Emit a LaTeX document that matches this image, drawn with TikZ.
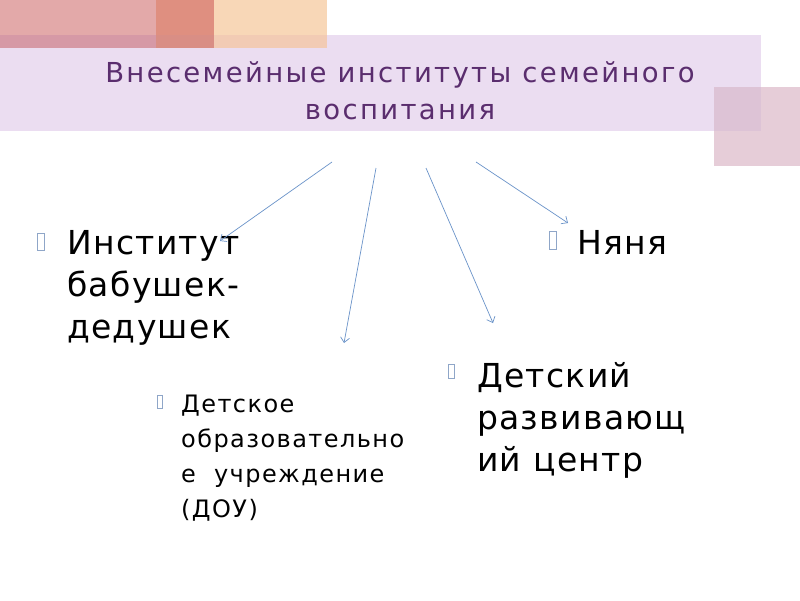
\documentclass[tikz,border=0pt]{standalone}
\usepackage{fontspec}
\setmainfont{DejaVu Sans}
\newfontfamily\bodyfont[LetterSpace=4]{DejaVu Sans}
\newfontfamily\smallfont[LetterSpace=6]{DejaVu Sans}
\newfontfamily\titlefont[LetterSpace=8.5]{DejaVu Sans}
\usetikzlibrary{arrows.meta}
\definecolor{bandc}{HTML}{EBDDF1}
\definecolor{pinkc}{HTML}{E3A9A9}
\definecolor{pinkov}{HTML}{D699A6}
\definecolor{darkc}{HTML}{DF8F80}
\definecolor{darkov}{HTML}{D98E85}
\definecolor{peachc}{HTML}{F8D7B7}
\definecolor{peachov}{HTML}{F2CBB4}
\definecolor{sqc}{HTML}{E6CDD8}
\definecolor{sqov}{HTML}{DDC3D6}
\definecolor{titlec}{HTML}{5A2D6E}
\definecolor{arrowc}{HTML}{6A93C9}
\definecolor{bulletc}{HTML}{8FA6C8}
\tikzset{
  arr/.style={draw=arrowc, line width=0.7pt, -{Straight Barb[length=5pt,width=9pt]}},
  bigtext/.style={anchor=north west, inner sep=0pt, align=left, font=\bodyfont\fontsize{33}{42}\selectfont},
  smalltext/.style={anchor=north west, inner sep=0pt, align=left, font=\smallfont\fontsize{24}{35}\selectfont},
  bulletbox/.style={draw=bulletc, line width=0.8pt}
}
\begin{document}
\begin{tikzpicture}[x=1pt,y=-1pt]
\useasboundingbox (0,0) rectangle (800,600);
\fill[white] (0,0) rectangle (800,600);
% band and decorative blocks
\fill[bandc] (0,35) rectangle (761,131);
\fill[pinkc] (0,0) rectangle (156,35);
\fill[pinkov] (0,35) rectangle (156,48);
\fill[darkc] (156,0) rectangle (214,35);
\fill[darkov] (156,35) rectangle (214,48);
\fill[peachc] (214,0) rectangle (327,35);
\fill[peachov] (214,35) rectangle (327,48);
\fill[sqov] (714,87) rectangle (761,131);
\fill[sqc] (761,87) rectangle (800,166);
\fill[sqc] (714,131) rectangle (761,166);
% title
\node[anchor=center, align=center, text=titlec, font=\titlefont\fontsize{27.5}{37}\selectfont] (title) at (400,91) {Внесемейные институты семейного\\воспитания};
% texts
\node[bigtext] (inst) at (67,230) {Институт\\бабушек-\\дедушек};
\node[bigtext] (nyan) at (577,230) {Няня};
\node[smalltext] (dou) at (181,395) {Детское\\образовательно\\е\ \ учреждение\\(ДОУ)};
\node[bigtext] (drc) at (477,362) {Детский\\развивающ\\ий центр};
% bullets
\draw[bulletbox] (37,233) rectangle (44,250) coordinate (b1);
\draw[bulletbox] (549,231) rectangle (556,249) coordinate (b2);
\draw[bulletbox] (157,395) rectangle (162,408) coordinate (b3);
\draw[bulletbox] (448,364) rectangle (454,378) coordinate (b4);
% arrows
\coordinate (s1) at (332,162); \coordinate (e1) at (220,241);
\coordinate (s2) at (376,168); \coordinate (e2) at (344,343);
\coordinate (s3) at (426,168); \coordinate (e3) at (493,323);
\coordinate (s4) at (476,162); \coordinate (e4) at (568,223);
\draw[arr] (s1) -- (e1);
\draw[arr] (s2) -- (e2);
\draw[arr] (s3) -- (e3);
\draw[arr] (s4) -- (e4);
\end{tikzpicture}
\end{document}
